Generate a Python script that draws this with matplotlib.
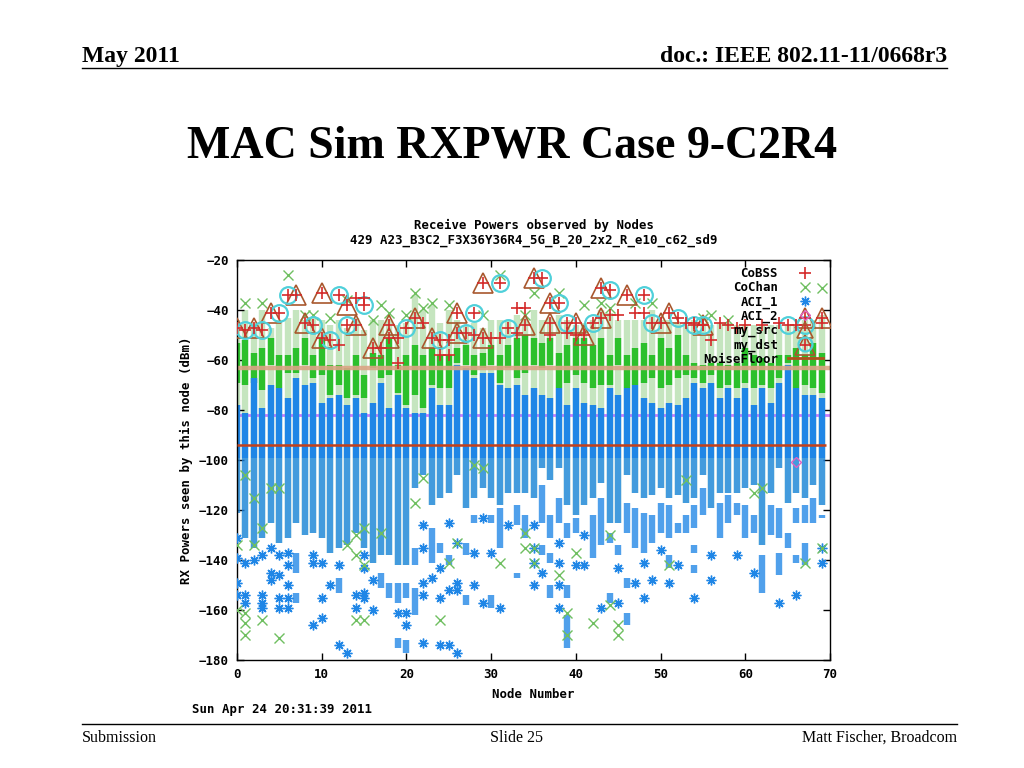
import numpy as np
import matplotlib.pyplot as plt
from matplotlib.lines import Line2D

# ---- data (dBm per node) ----
nodes = np.arange(70)

# top of the loose light-green CoChan cloud
cochan_cloud_top = [-44, -40, -45, -40, -47, -44, -43, -40, -44, -43,
                    -44, -46, -44, -47, -43, -48, -44, -44, -44, -46,
                    -45, -34, -40, -38, -45, -40, -44, -46, -45, -47,
                    -44, -44, -44, -42, -43, -40, -44, -43, -42, -44,
                    -46, -45, -44, -40, -41, -44, -44, -44, -44, -40,
                    -44, -44, -45, -46, -44, -45, -46, -45, -45, -46,
                    -46, -46, -46, -46, -46, -46, -46, -44, -44, -42]
# solid CoChan column
cochan_top = [-53, -52, -57, -55, -51, -58, -58, -55, -51, -58,
              -51, -62, -62, -63, -58, -66, -57, -58, -51, -62,
              -58, -54, -58, -55, -58, -58, -55, -54, -58, -57,
              -54, -58, -54, -51, -50, -51, -53, -51, -57, -54,
              -51, -51, -54, -51, -58, -51, -58, -55, -53, -58,
              -51, -55, -50, -58, -61, -62, -61, -61, -62, -61,
              -55, -58, -59, -61, -58, -58, -55, -58, -53, -57]
cochan_bot = [-69, -70, -69, -72, -62, -71, -65, -65, -62, -67,
              -66, -74, -70, -75, -74, -75, -63, -67, -66, -73,
              -78, -74, -79, -70, -71, -71, -61, -62, -66, -63,
              -62, -69, -63, -67, -65, -62, -63, -62, -71, -69,
              -66, -69, -71, -70, -70, -62, -71, -70, -69, -67,
              -71, -70, -67, -66, -67, -69, -66, -71, -70, -71,
              -69, -71, -70, -71, -67, -61, -71, -70, -71, -73]
# solid ACI_1 column
aci1_top = [-78, -81, -67, -79, -70, -71, -75, -67, -70, -69,
            -77, -75, -74, -78, -75, -81, -77, -69, -79, -74,
            -79, -81, -81, -71, -78, -78, -62, -63, -67, -65,
            -65, -70, -71, -70, -74, -71, -74, -75, -71, -78,
            -71, -77, -78, -79, -71, -74, -71, -70, -75, -77,
            -79, -77, -78, -75, -69, -71, -69, -75, -71, -75,
            -71, -78, -71, -77, -69, -62, -71, -74, -74, -75]
aci1_bot = [-121, -131, -135, -131, -125, -133, -131, -125, -130, -129,
            -131, -137, -135, -134, -129, -135, -141, -138, -138, -142,
            -142, -111, -106, -118, -115, -113, -106, -119, -115, -111,
            -115, -118, -113, -113, -113, -115, -103, -108, -103, -118,
            -122, -118, -115, -109, -125, -125, -106, -113, -115, -114,
            -111, -115, -114, -117, -115, -106, -119, -113, -113, -113,
            -111, -110, -134, -113, -103, -117, -113, -115, -110, -118]
dense_floor = -99

# further stacked ACI_1 runs: (node, top, bottom)
aci1_segments = [(7, -137, -145), (7, -153, -157), (12, -147, -153), (17, -145, -151),
                 (18, -149, -155), (19, -149, -157), (19, -171, -175), (20, -149, -155),
                 (20, -172, -177), (21, -135, -142), (21, -151, -162), (23, -127, -141),
                 (24, -133, -137), (25, -138, -142), (27, -133, -138), (27, -154, -158),
                 (28, -122, -125), (30, -122, -125), (30, -154, -159), (31, -119, -135),
                 (33, -118, -126), (33, -145, -147), (34, -122, -131), (36, -110, -125),
                 (36, -134, -138), (37, -122, -131), (37, -137, -141), (37, -150, -155),
                 (38, -115, -125), (39, -125, -131), (39, -150, -155), (39, -162, -175),
                 (40, -123, -129), (42, -122, -139), (43, -115, -134), (44, -129, -133),
                 (44, -153, -157), (45, -134, -138), (46, -117, -129), (46, -147, -151),
                 (46, -161, -166), (47, -119, -135), (48, -121, -137), (49, -122, -133),
                 (50, -117, -129), (51, -118, -131), (51, -138, -143), (52, -125, -129),
                 (53, -122, -129), (54, -118, -127), (54, -134, -137), (54, -142, -145),
                 (55, -111, -122), (57, -117, -131), (58, -114, -125), (59, -117, -122),
                 (60, -118, -131), (61, -122, -129), (62, -138, -153), (63, -118, -130),
                 (64, -119, -131), (64, -137, -146), (65, -129, -135), (66, -119, -125),
                 (66, -138, -141), (67, -118, -125), (67, -133, -142), (68, -115, -125),
                 (69, -122, -123)]

aci1_points = [(0, -131), (0, -139), (0, -149), (0, -154), (1, -141), (1, -154), (1, -157),
               (2, -140), (3, -138), (3, -154), (3, -157), (3, -159), (4, -135), (4, -145),
               (4, -148), (5, -138), (5, -146), (5, -155), (5, -159), (6, -137), (6, -142),
               (6, -150), (6, -155), (6, -159), (9, -138), (9, -141), (9, -166), (10, -141),
               (10, -155), (10, -163), (11, -150), (12, -142), (12, -174), (13, -177),
               (14, -154), (14, -159), (15, -138), (15, -143), (15, -153), (15, -155),
               (16, -148), (16, -160), (19, -161), (20, -161), (20, -166), (22, -126),
               (22, -135), (22, -149), (22, -154), (22, -173), (23, -147), (24, -143),
               (24, -155), (24, -174), (25, -125), (25, -152), (25, -174), (26, -133),
               (26, -149), (26, -152), (26, -177), (28, -137), (28, -150), (29, -123),
               (29, -157), (30, -137), (31, -159), (32, -126), (35, -126), (35, -135),
               (35, -141), (35, -150), (36, -145), (38, -133), (38, -141), (38, -150),
               (38, -159), (40, -142), (41, -130), (41, -142), (43, -159), (45, -143),
               (45, -157), (47, -149), (48, -141), (48, -155), (49, -148), (50, -136),
               (51, -149), (52, -142), (54, -155), (56, -138), (56, -148), (59, -138),
               (61, -145), (64, -157), (66, -154), (69, -135), (69, -141)]

cochan_points = [(6, -26), (1, -37), (3, -37), (21, -33), (23, -37), (25, -38), (31, -26),
                 (34, -42), (8, -42), (9, -42), (11, -43), (13, -36), (17, -38), (18, -41),
                 (20, -42), (29, -42), (35, -33), (43, -37), (69, -31), (49, -37), (44, -39),
                 (55, -43), (56, -42), (58, -44), (22, -39), (16, -44), (38, -33), (41, -38),
                 (47, -37),
                 (1, -106), (2, -115), (4, -111), (5, -111), (3, -127), (0, -134), (2, -134),
                 (14, -130), (14, -138), (15, -127), (15, -142), (13, -134), (14, -164),
                 (15, -164), (24, -164), (5, -171), (1, -161), (1, -165), (1, -170), (3, -164),
                 (26, -133), (28, -102), (29, -103), (31, -141), (34, -129), (34, -135),
                 (21, -117), (22, -107), (25, -141), (17, -129), (38, -146), (39, -161),
                 (39, -170), (42, -165), (44, -158), (45, -166), (45, -170), (53, -108),
                 (61, -113), (62, -111), (69, -135), (67, -141), (51, -142), (40, -137),
                 (44, -130), (35, -135), (35, -141), (0, -160)]

src_points = [(0, -47), (2, -47), (4, -41), (7, -34), (8, -45), (10, -33), (10, -51),
              (13, -38), (14, -46), (16, -55), (18, -46), (18, -51), (21, -43), (23, -51),
              (26, -41), (26, -49), (29, -29), (29, -51), (34, -46), (35, -27), (37, -37),
              (37, -45), (40, -45), (41, -50), (43, -31), (43, -43), (46, -34), (50, -45),
              (51, -41), (55, -46), (67, -43), (69, -43), (67, -54)]
dst_points = [(1, -48), (3, -48), (5, -41), (6, -34), (9, -46), (11, -52), (12, -34),
              (13, -46), (15, -38), (20, -47), (24, -52), (27, -49), (28, -41), (31, -29),
              (32, -47), (36, -27), (38, -37), (39, -45), (42, -45), (44, -32), (48, -34),
              (49, -45), (52, -43), (54, -46), (55, -46), (65, -46), (67, -46)]
cobss_extra = [(12, -54), (14, -35), (15, -35), (17, -55), (19, -51), (19, -61), (22, -45),
               (24, -58), (25, -58), (25, -52), (28, -50), (30, -51), (31, -51), (33, -39),
               (34, -39), (33, -49), (37, -50), (39, -49), (40, -50), (44, -42), (45, -42),
               (47, -41), (48, -41), (53, -45), (54, -45), (56, -52), (57, -45), (64, -45),
               (66, -46), (69, -45), (60, -46), (62, -46), (58, -46), (59, -47)]
aci2_points = [(66, -100.7)]

noise_floor = -94
cca_level = -63
aci_level = -82

title_lines = ["Receive Powers observed by Nodes",
               "429 A23_B3C2_F3X36Y36R4_5G_B_20_2x2_R_e10_c62_sd9"]
stamp = "Sun Apr 24 20:31:39 2011"

# ---- colours ----
c_green = "#2cc02c"
c_lgreen = "#6fbf60"
c_blue = "#1f86e6"
c_red = "#d42a2a"
c_tri = "#a8582e"
c_circ = "#4fd0da"

mono = dict(family="DejaVu Sans Mono", weight="bold", size=8.9)
serif = "Liberation Serif"

fig = plt.figure(figsize=(10.24, 7.68), dpi=100)
W, H = 1024, 768
ax = fig.add_axes([237 / W, 1 - 660 / H, (830 - 237) / W, 400 / H])

col_w = 4.6

def xy(pairs):
    a = np.array(pairs, dtype=float)
    return a[:, 0], a[:, 1]

# loose CoChan cloud, behind everything
ax.vlines(nodes, cochan_cloud_top, aci1_bot, color=c_lgreen, lw=col_w, alpha=0.4, zorder=1)
# solid CoChan
ax.vlines(nodes, cochan_top, cochan_bot, color=c_green, lw=col_w, zorder=2)
ax.axhline(aci_level, color="#c77dff", lw=2, zorder=1.5)
# solid ACI_1, thinning out below about -99 dBm
ax.vlines(nodes, aci1_top, np.maximum(aci1_bot, dense_floor), color=c_blue, lw=col_w, zorder=2)
lower = np.array(aci1_bot) < dense_floor
ax.vlines(nodes[lower], dense_floor, np.array(aci1_bot)[lower], color=c_blue, lw=col_w,
          alpha=0.78, zorder=2)
sn, st, sb = np.array(aci1_segments, dtype=float).T
ax.vlines(sn, st, sb, color=c_blue, lw=col_w, alpha=0.78, zorder=2)

ax.axhline(cca_level, color="#dba585", lw=3.2, alpha=0.9, zorder=2.5)

px, py = xy(aci1_points)
ax.plot(px, py, ls="none", marker=(8, 2, 0), ms=7, mew=1, color=c_blue, zorder=3)
px, py = xy(cochan_points)
ax.plot(px, py, ls="none", marker="x", ms=6.5, mew=1, color=c_lgreen, zorder=3)

px, py = xy(src_points)
ax.plot(px, py, ls="none", marker="^", ms=15, mfc="none", mec=c_tri, mew=1.2, zorder=4)
px, py = xy(dst_points)
ax.plot(px, py, ls="none", marker="o", ms=12, mfc="none", mec=c_circ, mew=1.6, zorder=4)
px, py = xy(src_points + dst_points + cobss_extra)
ax.plot(px, py, ls="none", marker="+", ms=8, mew=1.2, color=c_red, zorder=5)
px, py = xy(aci2_points)
ax.plot(px, py, ls="none", marker="D", ms=5, mfc="none", mec="#e060c0", mew=1, zorder=5)

ax.hlines(noise_floor, 0, 69.5, color="#c4401a", lw=1.8, zorder=6)

ax.set_xlim(0, 70)
ax.set_ylim(-180, -20)
ax.set_xticks(range(0, 71, 10))
ax.set_yticks(range(-180, -19, 20))
ax.tick_params(direction="in", top=True, right=True, length=5, width=1, pad=6)
for lab in ax.get_xticklabels() + ax.get_yticklabels():
    lab.set_fontproperties(mono)
for s in ax.spines.values():
    s.set_linewidth(1)

handles = [
    Line2D([], [], ls="none", marker="+", ms=8, mew=1.2, color=c_red),
    Line2D([], [], ls="none", marker="x", ms=6.5, mew=1, color=c_lgreen),
    Line2D([], [], ls="none", marker=(8, 2, 0), ms=7, mew=1, color=c_blue),
    Line2D([], [], ls="none", marker="D", ms=5, mfc="none", mec="#e060c0"),
    Line2D([], [], ls="none", marker="^", ms=12, mfc="none", mec=c_tri, mew=1.2),
    Line2D([], [], ls="none", marker="o", ms=10, mfc="none", mec=c_circ, mew=1.6),
    Line2D([], [], color="#b0501e", lw=2),
]
labels = ["CoBSS", "CoChan", "ACI_1", "ACI_2", "my_src", "my_dst", "NoiseFloor"]
leg = ax.legend(handles, labels, loc="upper right", frameon=False, markerfirst=False,
                prop=mono, handlelength=2.8, labelspacing=0.08, borderaxespad=0.2,
                handletextpad=0.8)
leg.set_zorder(10)

# chart captions
fig.text(533.5 / W, 1 - 225 / H, title_lines[0], ha="center", va="center", **mono)
fig.text(533.5 / W, 1 - 240 / H, title_lines[1], ha="center", va="center", **mono)
fig.text(186 / W, 1 - 460 / H, "RX Powers seen by this node (dBm)", rotation=90,
         ha="center", va="center", **mono)
fig.text(533.5 / W, 1 - 695 / H, "Node Number", ha="center", va="center", **mono)
fig.text(192 / W, 1 - 709 / H, stamp, ha="left", va="center", **mono)

# slide frame
fig.text(82 / W, 1 - 62 / H, "May 2011", ha="left", va="baseline",
         family=serif, weight="bold", size=17)
fig.text(947 / W, 1 - 62 / H, "doc.: IEEE 802.11-11/0668r3", ha="right", va="baseline",
         family=serif, weight="bold", size=17)
fig.add_artist(Line2D([82 / W, 947 / W], [1 - 68 / H, 1 - 68 / H], color="black", lw=1))
fig.text(512 / W, 1 - 157 / H, "MAC Sim RXPWR Case 9-C2R4", ha="center", va="baseline",
         family=serif, weight="bold", size=33)
fig.add_artist(Line2D([82 / W, 957 / W], [1 - 724 / H, 1 - 724 / H], color="black", lw=1))
fig.text(82 / W, 1 - 742 / H, "Submission", ha="left", va="baseline", family=serif, size=11.5)
fig.text(516 / W, 1 - 742 / H, "Slide 25", ha="center", va="baseline", family=serif, size=11.5)
fig.text(957 / W, 1 - 742 / H, "Matt Fischer, Broadcom", ha="right", va="baseline",
         family=serif, size=11.5)

fig.savefig("out.png", dpi=100)
